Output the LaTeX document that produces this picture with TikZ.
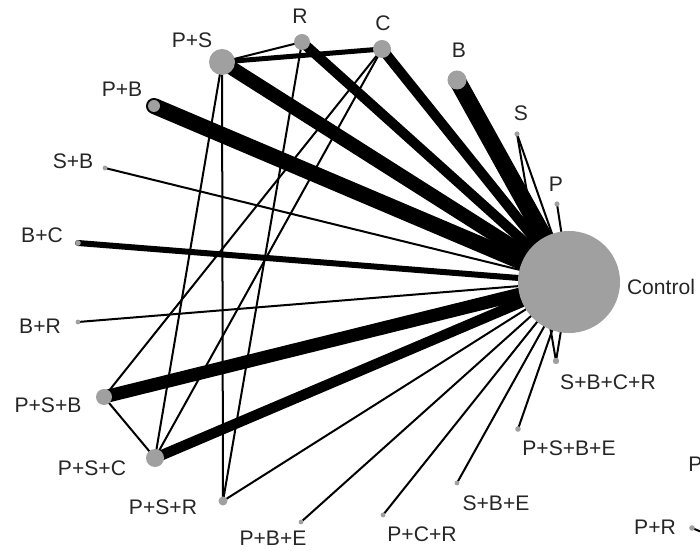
\documentclass[tikz,border=0pt]{standalone}
\usepackage{fontspec}
\setmainfont{Liberation Sans}
\pgfdeclarelayer{edges}
\pgfsetlayers{edges,main}
\definecolor{nodegray}{RGB}{160,160,160}

\begin{document}
\begin{tikzpicture}[x=0.025cm,y=-0.025cm]
\tikzset{
  trtnode/.style={circle,fill=nodegray,draw=none,inner sep=0pt,minimum size=#1},
  trtlabel/.style={font=\fontsize{15}{18}\selectfont,text=black!85,inner sep=0pt},
  nmaedge/.style={draw=black,line width=#1,line cap=round},
  thinedge/.style={nmaedge=0.5mm}
}
\useasboundingbox (0,0) rectangle (700,551);
\clip (0,0) rectangle (700,551);
% treatments
\node[trtnode=25.5mm] (n_Control) at (569,282) {};
\node[trtnode=1.3mm] (n_P) at (557,204) {};
\node[trtnode=1.3mm] (n_S) at (517,134) {};
\node[trtnode=4.75mm] (n_B) at (457,80) {};
\node[trtnode=4.5mm] (n_C) at (382,49) {};
\node[trtnode=4mm] (n_R) at (302,42) {};
\node[trtnode=6.5mm] (n_PS) at (222,62) {};
\node[trtnode=3mm] (n_PB) at (154,106) {};
\node[trtnode=1.2mm] (n_SB) at (105,168) {};
\node[trtnode=1.4mm] (n_BC) at (78,243) {};
\node[trtnode=1.2mm] (n_BR) at (78,322) {};
\node[trtnode=4mm] (n_PSB) at (104,397) {};
\node[trtnode=4.5mm] (n_PSC) at (155,458) {};
\node[trtnode=2.25mm] (n_PSR) at (223,501) {};
\node[trtnode=1.2mm] (n_PBE) at (301,522) {};
\node[trtnode=1.2mm] (n_PCR) at (383,515) {};
\node[trtnode=1.2mm] (n_SBE) at (457,483) {};
\node[trtnode=1.4mm] (n_PSBE) at (518,429) {};
\node[trtnode=1.6mm] (n_SBCR) at (556,361) {};
\node[trtnode=1.4mm] (n_PR) at (692,528) {};
\coordinate (c_off) at (740,548);
% labels
\node[trtlabel] (l_Control) at (661,287) {Control};
\node[trtlabel] (l_P) at (556,184) {P};
\node[trtlabel] (l_S) at (521,113) {S};
\node[trtlabel] (l_B) at (459,50) {B};
\node[trtlabel] (l_C) at (383,23) {C};
\node[trtlabel] (l_R) at (300,16) {R};
\node[trtlabel] (l_PS) at (192,40) {P+S};
\node[trtlabel] (l_PB) at (122,89) {P+B};
\node[trtlabel] (l_SB) at (73,161) {S+B};
\node[trtlabel] (l_BC) at (42,235) {B+C};
\node[trtlabel] (l_BR) at (40,326) {B+R};
\node[trtlabel] (l_PSB) at (48,405) {P+S+B};
\node[trtlabel] (l_PSC) at (92,468) {P+S+C};
\node[trtlabel] (l_PSR) at (163,507) {P+S+R};
\node[trtlabel] (l_PBE) at (273,538) {P+B+E};
\node[trtlabel] (l_PCR) at (422,534) {P+C+R};
\node[trtlabel] (l_SBE) at (496,503) {S+B+E};
\node[trtlabel] (l_PSBE) at (569,448) {P+S+B+E};
\node[trtlabel] (l_SBCR) at (608,382) {S+B+C+R};
\node[trtlabel] (l_PR) at (655,527) {P+R};
\node[trtlabel,anchor=west] (l_Pcut) at (688,464) {P};
% comparisons
\begin{pgfonlayer}{edges}
\draw[nmaedge=4.25mm] (n_B.center) -- (n_Control.center);
\draw[nmaedge=4mm] (n_PB.center) -- (n_Control.center);
\draw[nmaedge=3.5mm] (n_PS.center) -- (n_Control.center);
\draw[nmaedge=2.5mm] (n_R.center) -- (n_Control.center);
\draw[nmaedge=2.5mm] (n_C.center) -- (n_Control.center);
\draw[nmaedge=3.25mm] (n_PSB.center) -- (n_Control.center);
\draw[nmaedge=2.6mm] (n_PSC.center) -- (n_Control.center);
\draw[nmaedge=1.5mm] (n_BC.center) -- (n_Control.center);
\draw[nmaedge=1.25mm] (n_PS.center) -- (n_C.center);
\draw[thinedge] (n_P.center) -- (n_Control.center);
\draw[thinedge] (n_S.center) -- (n_Control.center);
\draw[thinedge] (n_S.center) -- (n_SBCR.center);
\draw[thinedge] (n_SB.center) -- (n_Control.center);
\draw[thinedge] (n_BR.center) -- (n_Control.center);
\draw[thinedge] (n_PSR.center) -- (n_Control.center);
\draw[thinedge] (n_PBE.center) -- (n_Control.center);
\draw[thinedge] (n_PCR.center) -- (n_Control.center);
\draw[thinedge] (n_SBE.center) -- (n_Control.center);
\draw[thinedge] (n_PSBE.center) -- (n_Control.center);
\draw[thinedge] (n_SBCR.center) -- (n_Control.center);
\draw[thinedge] (n_PS.center) -- (n_R.center);
\draw[thinedge] (n_PS.center) -- (n_PSC.center);
\draw[thinedge] (n_PS.center) -- (n_PSR.center);
\draw[thinedge] (n_R.center) -- (n_PSR.center);
\draw[thinedge] (n_C.center) -- (n_PSB.center);
\draw[thinedge] (n_C.center) -- (n_PSC.center);
\draw[thinedge] (n_PSB.center) -- (n_PSC.center);
\draw[thinedge] (n_PR.center) -- (c_off);
\end{pgfonlayer}
\end{tikzpicture}
\end{document}
